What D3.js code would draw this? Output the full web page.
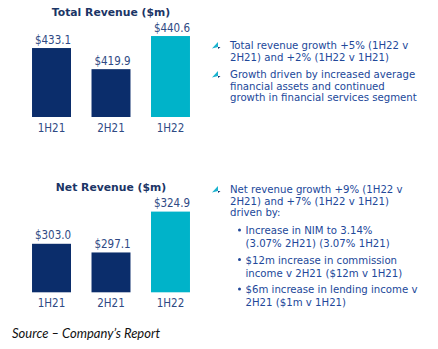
<!DOCTYPE html>
<html>
<head>
<meta charset="utf-8">
<script src="https://cdn.jsdelivr.net/npm/d3@7"></script>
<style>
  html, body { margin: 0; padding: 0; background: #fff; }
  svg { display: block; }
</style>
</head>
<body>
<svg id="chart" width="438" height="349"></svg>
<script>
const periods = ["1H21", "2H21", "1H22"]
const totalRevenue = [433.1, 419.9, 440.6]
const netRevenue = [303.0, 297.1, 324.9]
const barColours = ["#0b2d6b", "#0b2d6b", "#00b3c9"]

const totalNotes = [
    ["Total revenue growth +5% (1H22 v", "2H21) and +2% (1H22 v 1H21)"],
    ["Growth driven by increased average", "financial assets and continued", "growth in financial services segment"],
]
const netNotes = ["Net revenue growth +9% (1H22 v", "2H21) and +7% (1H22 v 1H21)", "driven by:"]
const netSubNotes = [
    ["Increase in NIM to 3.14%", "(3.07% 2H21) (3.07% 1H21)"],
    ["$12m increase in commission", "income v 2H21 ($12m v 1H21)"],
    ["$6m increase in lending income v", "2H21 ($1m v 1H21)"],
]

const font = "'DejaVu Sans', Verdana, sans-serif"
const narrow = "'DejaVu Sans Condensed', 'DejaVu Sans', sans-serif"
const textColour = "#22489a"
const labelColour = "#2f4a84"
const svg = d3.select("#chart")

function renderBars(g, { title, values, titleY, base, top, bottom, yRange }) {
    const x = d3.scaleBand().domain(periods).range([11.5, 210.5])
        .paddingInner(0.345).paddingOuter(0.345)
    const y = d3.scaleLinear().domain([base, top]).range([bottom, bottom - yRange])

    g.append("text")
        .attr("x", 111).attr("y", titleY)
        .attr("text-anchor", "middle")
        .attr("font-family", font).attr("font-weight", "bold")
        .attr("font-size", 10.8).attr("fill", "#1b3566")
        .text(title)

    const data = periods.map((p, i) => ({ period: p, value: values[i], colour: barColours[i] }))

    g.selectAll("rect")
        .data(data)
        .join("rect")
        .attr("x", (d) => x(d.period))
        .attr("y", (d) => y(d.value))
        .attr("width", x.bandwidth())
        .attr("height", (d) => bottom - y(d.value))
        .attr("fill", (d) => d.colour)

    g.selectAll("text.value")
        .data(data)
        .join("text")
        .attr("class", "value")
        .attr("x", (d) => x(d.period) + x.bandwidth() / 2 + 1.5)
        .attr("y", (d) => y(d.value) - 4.5)
        .attr("text-anchor", "middle")
        .attr("font-family", narrow).attr("font-stretch", "condensed").attr("font-size", 11.5)
        .attr("fill", labelColour)
        .text((d) => "$" + d.value.toFixed(1))

    const axis = g.append("g")
        .attr("transform", `translate(0, ${bottom})`)
        .call(d3.axisBottom(x).tickSize(0).tickPadding(7))
    axis.select(".domain").remove()
    axis.selectAll("text")
        .attr("font-family", narrow).attr("font-stretch", "condensed").attr("font-size", 11.5)
        .attr("fill", labelColour)
}

renderBars(svg.append("g"), {
    title: "Total Revenue ($m)", values: totalRevenue, titleY: 16,
    base: 390, top: 450, bottom: 117, yRange: 96,
})
renderBars(svg.append("g"), {
    title: "Net Revenue ($m)", values: netRevenue, titleY: 191,
    base: 270, top: 330, bottom: 292.3, yRange: 88.2,
})

// little arrow marker used for the headline notes
function arrow(g, x, y) {
    g.append("path")
        .attr("d", `M${x},${y + 6.5} L${x + 6},${y} L${x + 6},${y + 5} Z`)
        .attr("fill", "#1bb3cf")
    g.append("path")
        .attr("d", `M${x + 6},${y + 5} L${x + 8.5},${y + 5} L${x + 6},${y + 7} Z`)
        .attr("fill", "#0b2d6b")
}

function lines(g, x, y0, rows, step = 11.7) {
    const t = g.append("text")
        .attr("font-family", narrow).attr("font-stretch", "condensed")
        .attr("font-size", 11.3).attr("fill", textColour)
    rows.forEach((row, i) => {
        t.append("tspan").attr("x", x).attr("y", y0 + i * step).text(row)
    })
}

const notes = svg.append("g")
let noteY = [49, 78]
totalNotes.forEach((rows, i) => {
    arrow(notes, 212, noteY[i] - 7)
    lines(notes, 230, noteY[i], rows)
})

arrow(notes, 212, 186)
lines(notes, 230, 193, netNotes)

const subY = [234, 263.5, 293]
netSubNotes.forEach((rows, i) => {
    notes.append("circle").attr("cx", 239.5).attr("cy", subY[i] - 4).attr("r", 1.5).attr("fill", textColour)
    lines(notes, 245.5, subY[i], rows, 13)
})

svg.append("text")
    .attr("x", 12).attr("y", 338)
    .attr("font-family", "Lato, 'Open Sans', sans-serif")
    .attr("font-style", "italic").attr("font-size", 13)
    .attr("fill", "#111")
    .text("Source \u2013 Company\u2019s Report")
</script>
</body>
</html>
